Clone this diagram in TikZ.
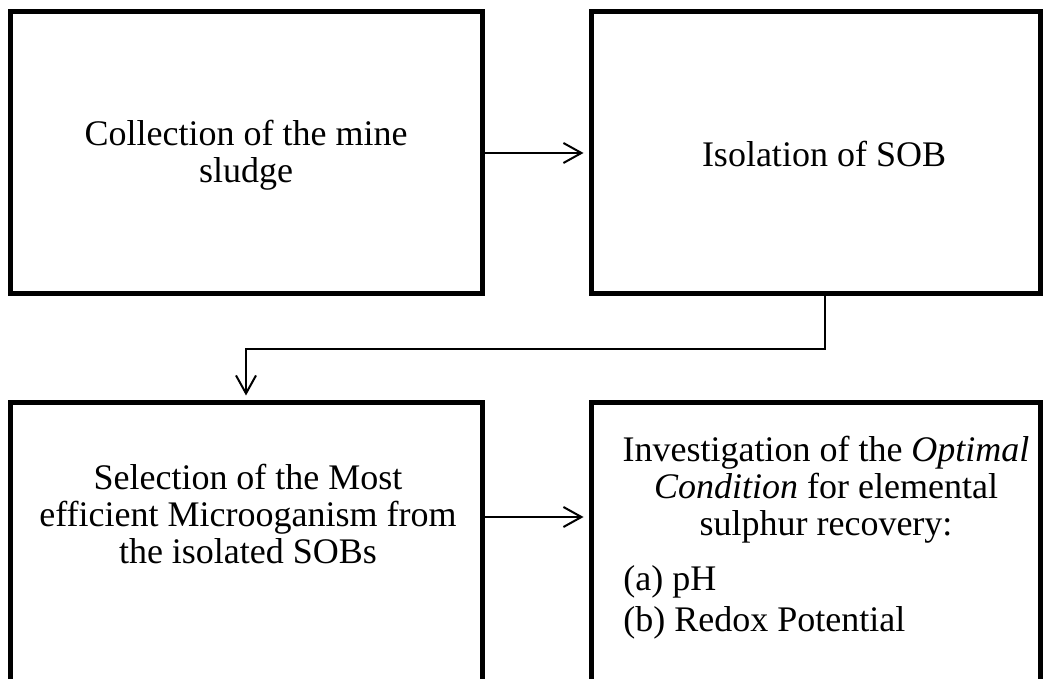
\documentclass[tikz,border=0pt]{standalone}
\usepackage{fontspec}
\setmainfont{Liberation Serif}
\usetikzlibrary{arrows.meta}

\begin{document}
\begin{tikzpicture}[x=1pt,y=1pt,
    box/.style={draw, line width=2.5pt, minimum height=141pt},
    link/.style={line width=1pt, shorten >=2.5pt, -{Straight Barb[length=9pt,width=10pt]}},
    txt/.style={font=\fontsize{18}{18.5}\selectfont, align=center, inner sep=0pt}]
    \useasboundingbox (0,0) rectangle (524,339.5);
    \node (col) [box, minimum width=236pt] at (123,263) {};
    \node (iso) [box, minimum width=224.5pt] at (407.75,263) {};
    \node (sel) [box, minimum width=236pt, minimum height=160pt] at (123,58) {};
    \node (inv) [box, minimum width=224.5pt, minimum height=160pt] at (407.75,58) {};
    \node (colt) [txt] at (123,262) {Collection of the mine\\ sludge};
    \node (isot) [txt] at (412,262.5) {Isolation of SOB};
    \node (selt) [txt] at (124,82.5) {Selection of the Most\\ efficient Microoganism from\\ the isolated SOBs};
    \node (invt) [txt] at (413,94.5) {Investigation of the \textit{Optimal}\\ \textit{Condition} for elemental\\ sulphur recovery:};
    \node (pha) [txt, anchor=west] at (311.5,48.5) {(a) pH};
    \node (phb) [txt, anchor=west] at (311.5,28) {(b) Redox Potential};
    \draw[link] (col.east) -- (iso.west);
    \draw[link] ([xshift=4.75pt]iso.south) -- ++(0,-26.25pt) -| (sel.north);
    \draw[link] ([yshift=23pt]sel.east) -- ([yshift=23pt]inv.west);
\end{tikzpicture}
\end{document}
